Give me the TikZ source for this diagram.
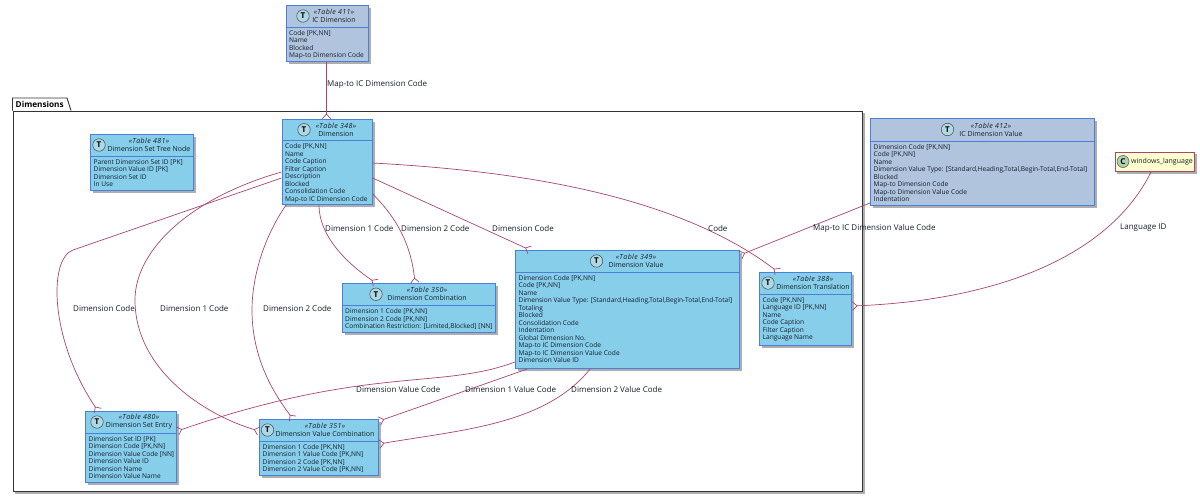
\documentclass[tikz,border=0pt]{standalone}
\usepackage{fontspec}
\setmainfont{Open Sans}
\usetikzlibrary{arrows.meta,shadows}
\definecolor{linec}{HTML}{A8466E}
\definecolor{tblue}{HTML}{87CEEB}
\definecolor{icblue}{HTML}{B0C4DE}
\definecolor{bordc}{HTML}{4A7FDC}
\definecolor{shad}{HTML}{8C8C8C}
\definecolor{txtc}{HTML}{141E2A}
\definecolor{tbadge}{HTML}{ADD8E6}
\definecolor{cbadge}{HTML}{ADD1B2}
\definecolor{classy}{HTML}{FEFECE}
\tikzset{
  tbox/.style={draw=bordc,line width=1.1pt,inner sep=0pt,anchor=north west},
  shd/.style={fill=shad,draw=none,opacity=.7},
  hdline/.style={draw=bordc,line width=0.9pt},
  badge/.style={circle,draw=black!70,fill=tbadge,line width=.5pt,inner sep=0pt,minimum size=12.5pt,font=\fontsize{8}{8}\selectfont\bfseries},
  attr/.style={anchor=north west,inner sep=0pt,align=left,text=txtc,font=\fontsize{6.6}{7.5}\selectfont},
  ttl/.style={inner sep=0pt,align=center,text=txtc,font=\fontsize{7}{8}\selectfont},
  rel/.style={draw=linec,line width=.7pt},
  crow/.style={rel,-{Straight Barb[reversed,length=4.5pt,width=8.5pt,line width=.7pt]}},
  lbl/.style={anchor=west,inner sep=0pt,text=txtc,font=\fontsize{8}{8}\selectfont},
}
% name, x0, y0, x1, y1, ydiv, fill, badge x, {title x, table no, title, attrs}
\newcommand{\tbl}[9]{%
  \fill[shd] (#2+3,#3+3) rectangle (#4+3,#5+3);
  \node[tbox,fill=#7,minimum width=#4-#2,minimum height=#5-#3] (#1) at (#2,#3) {};
  \draw[hdline] (#2,#6) -- (#4,#6);
  \tblinner{#1}{#2}{#3}{#6}{#8}#9}
\newcommand{\tblinner}[8]{%
  \node[badge] (#1b) at (#5,{(#3+#4)/2}) {T};
  \node[ttl] (#1t) at (#6,{(#3+#4)/2}) {{\itshape\addfontfeature{LetterSpace=6}«Table #7»}\\#8};
  \tblattrs{#1}{#2}{#4}}
\newcommand{\tblattrs}[4]{\node[attr] (#1a) at (#2+3.5,#3+3.2) {#4};}
\begin{document}
\begin{tikzpicture}[x=1pt,y=-1pt]
\useasboundingbox (0,0) rectangle (1200,498);
% package
\fill[shd] (15,113) rectangle (865,494);
\node[draw=black!80,fill=white,line width=1.2pt,minimum width=849.5,minimum height=380.5,inner sep=0,anchor=north west] (pkg) at (12.5,110.5) {};
\draw[draw=black!80,fill=white,line width=.9pt] (12.5,110.5) -- (12.5,98) -- (67,98) -- (71,110.5);
\node[anchor=west,inner sep=0,font=\fontsize{8.2}{8}\selectfont\bfseries] (pkgt) at (15.5,104.5) {Dimensions};

\tbl{t411}{285.5}{5}{367.5}{61}{27}{icblue}{303}
  {{334}{411}{IC Dimension}{Code [PK,NN]\\Name\\Blocked\\Map-to Dimension Code}}
\tbl{t348}{281.5}{119}{371.5}{204}{140.5}{tblue}{304}
  {{336}{348}{Dimension}{Code [PK,NN]\\Name\\Code Caption\\Filter Caption\\Description\\Blocked\\Consolidation Code\\Map-to IC Dimension Code}}
\tbl{t481}{90}{134}{193}{190}{156}{tblue}{99}
  {{149}{481}{Dimension Set Tree Node}{Parent Dimension Set ID [PK]\\Dimension Value ID [PK]\\Dimension Set ID\\In Use}}
\tbl{t350}{341.5}{283}{494.5}{332}{305.5}{tblue}{376}
  {{427}{350}{Dimension Combination}{Dimension 1 Code [PK,NN]\\Dimension 2 Code [PK,NN]\\Combination Restriction: [Limited,Blocked] [NN]}}
\tbl{t349}{515}{250}{739}{368}{272}{tblue}{596.5}
  {{636}{349}{Dimension Value}{Dimension Code [PK,NN]\\Code [PK,NN]\\Name\\Dimension Value Type: [Standard,Heading,Total,Begin-Total,End-Total]\\Totaling\\Blocked\\Consolidation Code\\Indentation\\Global Dimension No.\\Map-to IC Dimension Code\\Map-to IC Dimension Value Code\\Dimension Value ID}}
\tbl{t388}{759}{272}{851}{345}{294}{tblue}{768}
  {{813}{388}{Dimension Translation}{Code [PK,NN]\\Language ID [PK,NN]\\Name\\Code Caption\\Filter Caption\\Language Name}}
\tbl{t412}{870}{118}{1094}{205}{141}{icblue}{947.5}
  {{991}{412}{IC Dimension Value}{Dimension Code [PK,NN]\\Code [PK,NN]\\Name\\Dimension Value Type: [Standard,Heading,Total,Begin-Total,End-Total]\\Blocked\\Map-to Dimension Code\\Map-to Dimension Value Code\\Indentation}}
\tbl{t480}{85}{411}{176}{482}{433}{tblue}{97}
  {{139}{480}{Dimension Set Entry}{Dimension Set ID [PK]\\Dimension Code [PK,NN]\\Dimension Value Code [NN]\\Dimension Value ID\\Dimension Name\\Dimension Value Name}}
\tbl{t351}{259}{419}{378}{475}{441}{tblue}{267.5}
  {{325}{351}{Dimension Value Combination}{Dimension 1 Code [PK,NN]\\Dimension 1 Value Code [PK,NN]\\Dimension 2 Code [PK,NN]\\Dimension 2 Value Code [PK,NN]}}

% windows_language
\fill[shd] (1117,154) rectangle (1197,174);
\node[draw=linec,fill=classy,line width=1pt,minimum width=79,minimum height=19,inner sep=0,anchor=north west] (wl) at (1115,152) {};
\node[circle,draw=black!70,fill=cbadge,line width=.5pt,inner sep=0,minimum size=12pt,font=\fontsize{8}{8}\selectfont\bfseries] (wlb) at (1123,161.5) {C};
\node[inner sep=0,anchor=west,text=txtc,font=\fontsize{7}{8}\selectfont] (wlt) at (1131,161.5) {windows\_language};

% connectors
\draw[crow] (t411.south -| 326.5,0) -- (t348.north -| 326.5,0);
\draw[crow] (t348.west |- 0,178) -- (73,250) .. controls (48,259) and (50,340) .. (t480.north -| 98,0);
\draw[crow] (t348.west |- 0,172) .. controls (190,198) and (135,250) .. (135,300) .. controls (135,370) and (205,415) .. (t351.west |- 0,431);
\draw[crow] (t348.south -| 286,0) .. controls (262,240) and (252,280) .. (252,310) .. controls (252,360) and (275,395) .. (t351.north -| 293,0);
\draw[crow] (t348.south -| 319,0) .. controls (319,235) and (345,262) .. (t350.north -| 376,0);
\draw[crow] (t348.east |- 0,194) .. controls (397,218) and (411,245) .. (t350.north -| 415,0);
\draw[crow] (t348.east |- 0,178) -- (t349.north -| 530,0);
\draw[crow] (t348.east |- 0,163) .. controls (500,170) and (670,190) .. (t388.north -| 778,0);
\draw[crow] (t412.west |- 0,203) -- (t349.east |- 0,255);
\draw[crow] (wl.south -| 1151,0) .. controls (1110,255) and (1000,300) .. (t388.east |- 0,306);
\draw[crow] (t349.west |- 0,362) .. controls (440,390) and (370,365) .. (t480.east |- 0,431);
\draw[crow] (t349.south -| 527,0) -- (t351.east |- 0,421);
\draw[crow] (t349.south -| 590,0) .. controls (545,425) and (460,430) .. (t351.east |- 0,444);

% labels
\node[lbl] (l1) at (327,84.5) {Map-to IC Dimension Code};
\node[lbl] (l2) at (325,228) {Dimension 1 Code};
\node[lbl] (l3) at (401,228) {Dimension 2 Code};
\node[lbl] (l4) at (492,228) {Dimension Code};
\node[lbl] (l5) at (708,228) {Code};
\node[lbl] (l6) at (813,228) {Map-to IC Dimension Value Code};
\node[lbl] (l7) at (1120,228) {Language ID};
\node[lbl] (l8) at (73,308) {Dimension Code};
\node[lbl] (l9) at (160,308) {Dimension 1 Code};
\node[lbl] (l10) at (263,308) {Dimension 2 Code};
\node[lbl] (l11) at (356,389) {Dimension Value Code};
\node[lbl] (l12) at (465,389) {Dimension 1 Value Code};
\node[lbl] (l13) at (571,389) {Dimension 2 Value Code};
\end{tikzpicture}
\end{document}
